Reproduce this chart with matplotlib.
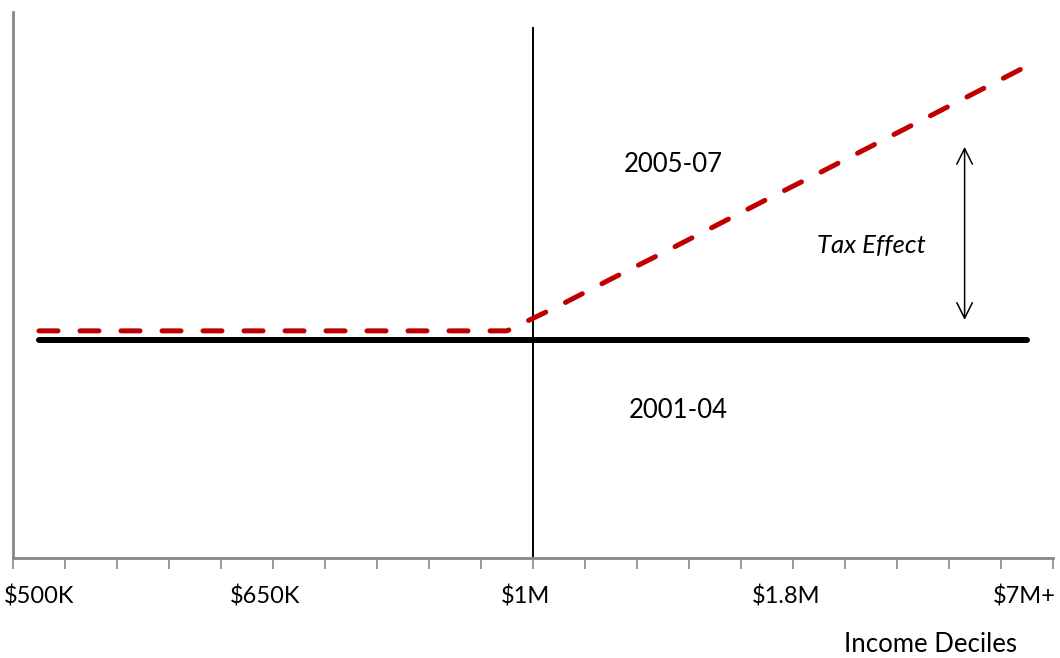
import numpy as np
import matplotlib.pyplot as plt

plt.rcParams['font.family'] = ['Lato', 'DejaVu Sans']

# --- Data (20 income deciles, category centres at 0.5 .. 19.5) ---
n_cat = 20
base_2001_04 = [40.0] * n_cat
period_2005_07 = [41.6] * 10 + [46.2, 51.1, 55.9, 60.8, 65.7, 70.5, 75.4, 80.3, 85.2, 90.1]
tick_labels = ['$500K', '$650K', '$1M', '$1.8M', '$7M+']
label_pos = [0.5, 4.84, 9.86, 14.86, 19.45]
split_at = 10          # the $1M boundary
split_top = 97.1
arrow_x = 18.3
arrow_span = (43.6, 75.3)

x = np.arange(n_cat) + 0.5

fig = plt.figure(figsize=(10.6, 6.58), dpi=100)
ax = fig.add_axes([13 / 1060, 100 / 658, 1040 / 1060, 546 / 658])

ax.plot(x, base_2001_04, color='black', lw=4.3, solid_capstyle='round', zorder=3)
ax.plot(x, period_2005_07, color='#C00000', lw=3.6, ls=(0, (3.8, 4.4)),
        dash_capstyle='round', zorder=4)

# vertical divider at $1M
ax.plot([split_at, split_at], [0, split_top], color='black', lw=1.4, zorder=2)

# tax effect arrow
ax.annotate('', xy=(arrow_x, arrow_span[1]), xytext=(arrow_x, arrow_span[0]),
            arrowprops=dict(arrowstyle='<->', color='black', lw=1.1,
                            mutation_scale=28, shrinkA=0, shrinkB=0))

ax.text(12.7, 72, '2005-07', ha='center', va='center', fontsize=18.5)
ax.text(12.8, 27.1, '2001-04', ha='center', va='center', fontsize=18.5)
ax.text(16.5, 57.3, 'Tax Effect', ha='center', va='center', fontsize=18.5, style='italic')
fig.text(930 / 1060, 1 - 645 / 658, 'Income Deciles', ha='center', va='center', fontsize=18.5)

ax.set_xlim(0, n_cat)
ax.set_ylim(0, 100)

# minor ticks = category boundaries, major ticks carry the labels only
ax.set_xticks(np.arange(n_cat + 1), minor=True)
ax.set_xticks(label_pos)
ax.set_xticklabels(tick_labels, fontsize=17)
ax.tick_params(axis='x', which='major', length=0, pad=20)
ax.tick_params(axis='x', which='minor', length=8, width=1.2, color='#888888')
ax.set_yticks([])

for side in ['top', 'right']:
    ax.spines[side].set_visible(False)
for side in ['left', 'bottom']:
    ax.spines[side].set_color('#888888')
    ax.spines[side].set_linewidth(2)

fig.savefig('out.png', dpi=100)
